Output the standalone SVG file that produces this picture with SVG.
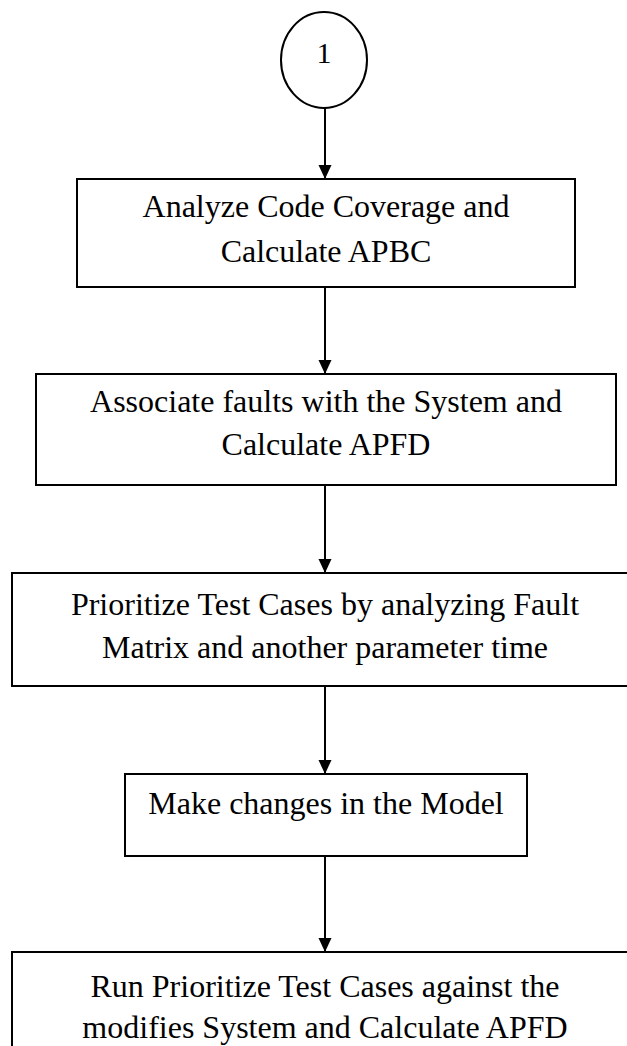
<svg xmlns="http://www.w3.org/2000/svg" width="627" height="1046" viewBox="0 0 627 1046">
  <style>
    .box { fill: #ffffff; stroke: #000000; stroke-width: 2; }
    .lbl { font-family: "Liberation Serif", "Times New Roman", serif; font-size: 32px; fill: #000000; text-anchor: middle; }
    .conn { stroke: #000000; stroke-width: 2; fill: none; marker-end: url(#arrow); }
  </style>
  <defs>
    <marker id="arrow" viewBox="0 0 14 14" refX="14" refY="7" markerWidth="14" markerHeight="14" markerUnits="userSpaceOnUse" orient="auto">
      <path d="M0,0.5 L14,7 L0,13.5 Z" fill="#000000"/>
    </marker>
  </defs>
  <rect width="627" height="1046" fill="#ffffff"/>

  <!-- vertical flow arrows between the steps -->
  <g id="connectors">
    <line class="conn" x1="325" y1="108" x2="325" y2="179"/>
    <line class="conn" x1="325" y1="287" x2="325" y2="374"/>
    <line class="conn" x1="325" y1="485" x2="325" y2="573"/>
    <line class="conn" x1="325" y1="686" x2="325" y2="774"/>
    <line class="conn" x1="325" y1="856" x2="325" y2="952"/>
  </g>

  <g id="start">
    <ellipse cx="324" cy="60" rx="43" ry="48" fill="#ffffff" stroke="#000000" stroke-width="2"/>
    <text class="lbl" x="324" y="63" style="font-size:30px">1</text>
  </g>

  <g id="analyze">
    <rect class="box" x="77" y="179" width="498" height="108"/>
    <text class="lbl" x="326" y="217">Analyze Code Coverage and</text>
    <text class="lbl" x="326" y="262">Calculate APBC</text>
  </g>

  <g id="associate">
    <rect class="box" x="36" y="374" width="580" height="111"/>
    <text class="lbl" x="326" y="412">Associate faults with the System and</text>
    <text class="lbl" x="326" y="455">Calculate APFD</text>
  </g>

  <g id="prioritize">
    <rect class="box" x="12" y="573" width="640" height="113"/>
    <text class="lbl" x="325" y="615">Prioritize Test Cases by analyzing Fault</text>
    <text class="lbl" x="325" y="658">Matrix and another parameter time</text>
  </g>

  <g id="changes">
    <rect class="box" x="125" y="774" width="402" height="82"/>
    <text class="lbl" x="326" y="814">Make changes in the Model</text>
  </g>

  <g id="run">
    <rect class="box" x="12" y="952" width="640" height="120"/>
    <text class="lbl" x="325" y="997">Run Prioritize Test Cases against the</text>
    <text class="lbl" x="325" y="1038">modifies System and Calculate APFD</text>
  </g>
</svg>
